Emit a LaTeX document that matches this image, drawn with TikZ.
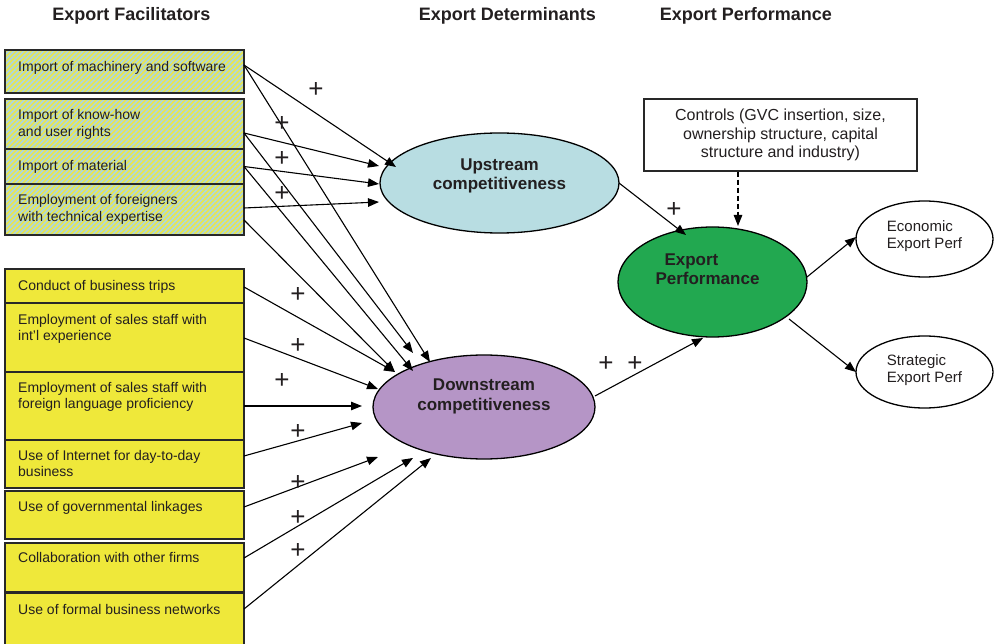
\documentclass[tikz,border=0pt]{standalone}
\usepackage{fontspec}
\setmainfont{Liberation Sans}
\usetikzlibrary{arrows.meta,shapes.geometric,patterns.meta}
\definecolor{byel}{RGB}{239,232,58}
\definecolor{hyel}{RGB}{232,230,80}
\definecolor{hblue}{RGB}{172,214,222}
\definecolor{upc}{RGB}{184,221,226}
\definecolor{dnc}{RGB}{181,149,198}
\definecolor{grc}{RGB}{34,168,80}
\definecolor{bline}{RGB}{40,40,40}
\definecolor{tcol}{RGB}{35,31,32}
\begin{document}
\begin{tikzpicture}[x=1pt,y=-1pt,
  ybox/.style={draw=bline,line width=1.2pt,fill=byel,minimum width=239pt,inner sep=0pt,outer sep=0pt},
  hbox/.style={draw=bline,line width=1.2pt,minimum width=239pt,inner sep=0pt,outer sep=0pt,
    preaction={fill=hyel},pattern={Lines[angle=45,distance=3.5pt,line width=1.6pt]},pattern color=hblue},
  btxt/.style={anchor=north west,inner sep=0pt,align=left,font=\fontsize{14}{16.5}\selectfont,text=tcol},
  hdr/.style={anchor=base,inner sep=0pt,font=\fontsize{18}{20}\selectfont\bfseries,text=tcol},
  ell/.style={ellipse,draw=black,line width=1.3pt,inner sep=0pt,outer sep=0pt},
  etxt/.style={inner sep=0pt,align=center,font=\fontsize{17}{19.5}\selectfont\bfseries,text=tcol},
  stxt/.style={inner sep=0pt,align=left,font=\fontsize{15}{17.5}\selectfont,text=tcol},
  plus/.style={inner sep=0pt,font=\fontsize{26}{26}\selectfont,text=tcol},
  arr/.style={-{Triangle[length=11pt,width=8.5pt]},line width=1.1pt,black}]
\useasboundingbox (0,0) rectangle (997,644);
\fill[white] (0,0) rectangle (997,644);

% headers
\node[hdr] (h1) at (131.5,20.5) {Export Facilitators};
\node[hdr] (h2) at (507.5,20.5) {Export Determinants};
\node[hdr] (h3) at (746,20.5) {Export Performance};

% hatched boxes
\node[hbox,minimum height=43pt] (b1) at (124.5,71.5) {};
\node[hbox,minimum height=50pt] (b2) at (124.5,124) {};
\node[hbox,minimum height=35pt] (b3) at (124.5,166.5) {};
\node[hbox,minimum height=51pt] (b4) at (124.5,209.5) {};
% yellow boxes
\node[ybox,minimum height=34pt] (bA) at (124.5,286) {};
\node[ybox,minimum height=69pt] (bB) at (124.5,337.5) {};
\node[ybox,minimum height=68pt] (bC) at (124.5,406) {};
\node[ybox,minimum height=48pt] (bD) at (124.5,464) {};
\node[ybox,minimum height=48pt] (bE) at (124.5,515) {};
\node[ybox,minimum height=49pt] (bF) at (124.5,567.5) {};
\node[ybox,minimum height=53pt] (bG) at (124.5,619.5) {};

% box texts
\node[btxt] (t1) at (18,61) {Import of machinery and software};
\node[btxt] (t2) at (18,109.5) {Import of know-how\\and user rights};
\node[btxt] (t3) at (18,160) {Import of material};
\node[btxt] (t4) at (18,194.5) {Employment of foreigners\\with technical expertise};
\node[btxt] (tA) at (18,280) {Conduct of business trips};
\node[btxt] (tB) at (18,314) {Employment of sales staff with\\int’l experience};
\node[btxt] (tC) at (18,382) {Employment of sales staff with\\foreign language proficiency};
\node[btxt] (tD) at (18,450) {Use of Internet for day-to-day\\business};
\node[btxt] (tE) at (18,501) {Use of governmental linkages};
\node[btxt] (tF) at (18,552) {Collaboration with other firms};
\node[btxt] (tG) at (18,604) {Use of formal business networks};

% ellipses
\node[ell,fill=upc,minimum width=239pt,minimum height=100pt] (up) at (499.5,183) {};
\node[etxt] (upT) at (499.5,176) {Upstream\\competitiveness};
\node[ell,fill=dnc,minimum width=222pt,minimum height=104pt] (down) at (484,407) {};
\node[etxt] (downT) at (484,396.5) {Downstream\\competitiveness};
\node[ell,fill=grc,minimum width=189pt,minimum height=110pt] (perf) at (712.5,282) {};
\node[etxt,align=left] (perfT) at (707.5,269) {\hspace*{9pt}Export\\Performance};
\node[ell,fill=white,minimum width=137pt,minimum height=76pt] (econ) at (924.5,239) {};
\node[stxt] (econT) at (924.5,236) {Economic\\Export Perf};
\node[ell,fill=white,minimum width=137pt,minimum height=72pt] (strat) at (924.5,372) {};
\node[stxt] (stratT) at (924.5,370) {Strategic\\Export Perf};

% controls box
\node[draw=bline,line width=1.2pt,fill=white,minimum width=273pt,minimum height=72pt,inner sep=0pt,
  align=center,font=\fontsize{16}{18.5}\selectfont,text=tcol] (ctrl) at (780.5,135)
  {Controls (GVC insertion, size,\\ownership structure, capital\\structure and industry)};

% arrows to upstream
\draw[arr] ([yshift=6.5pt]b1.east) -- ([xshift=-103.5pt,yshift=16pt]up.center);
\draw[arr] ([yshift=-9pt]b2.east) -- ([xshift=-120.5pt,yshift=17pt]up.center);
\draw[arr] (b3.east) -- ([xshift=-120.5pt,yshift=-1pt]up.center);
\draw[arr] ([yshift=1.5pt]b4.east) -- ([xshift=-120.5pt,yshift=-19pt]up.center);
% arrows to downstream
\draw[arr] ([yshift=6.5pt]b1.east) -- ([xshift=-54pt,yshift=45pt]down.center);
\draw[arr] ([yshift=-9pt]b2.east) -- ([xshift=-71pt,yshift=54pt]down.center);
\draw[arr] (b3.east) -- ([xshift=-71pt,yshift=36pt]down.center);
\draw[arr] ([yshift=-10.5pt]b4.east) -- ([xshift=-89pt,yshift=35pt]down.center);
\draw[arr] ([yshift=-1pt]bA.east) -- ([xshift=-89pt,yshift=35pt]down.center);
\draw[arr] ([yshift=-0.5pt]bB.east) -- ([xshift=-106pt,yshift=18pt]down.center);
\draw[arr] (bC.east) -- ([xshift=-122pt,yshift=1pt]down.center);
\draw[arr] ([yshift=8pt]bD.east) -- ([xshift=-122pt,yshift=-16pt]down.center);
\draw[arr] ([yshift=8pt]bE.east) -- ([xshift=-106pt,yshift=-50pt]down.center);
\draw[arr] ([yshift=9.5pt]bF.east) -- ([xshift=-71pt,yshift=-51pt]down.center);
\draw[arr] ([yshift=10.5pt]bG.east) -- ([xshift=-53pt,yshift=-51pt]down.center);
% to export performance
\draw[arr] (up.east) -- ([xshift=-26.5pt,yshift=47pt]perf.center);
\draw[arr] ([yshift=11pt]down.east) -- ([xshift=-9.5pt,yshift=-56pt]perf.center);
\draw[arr] ([yshift=5pt]perf.east) -- ([yshift=2pt]econ.west);
\draw[arr] ([xshift=76.5pt,yshift=-37pt]perf.center) -- (strat.west);
\draw[arr,dash pattern=on 5pt off 3pt] ([xshift=-42.5pt]ctrl.south) -- ([xshift=25.5pt,yshift=1pt]perf.north);

% plus signs
\node[plus] (p1) at (316,90.5) {+};
\node[plus] (p2) at (282,124.5) {+};
\node[plus] (p3) at (282,158.5) {+};
\node[plus] (p4) at (282,193.5) {+};
\node[plus] (p5) at (298,294.5) {+};
\node[plus] (p6) at (298,345.5) {+};
\node[plus] (p7) at (282,380.5) {+};
\node[plus] (p8) at (298,431.5) {+};
\node[plus] (p9) at (298,482.5) {+};
\node[plus] (p10) at (298,517.5) {+};
\node[plus] (p11) at (298,550.5) {+};
\node[plus] (p12) at (606,363.5) {+};
\node[plus] (p13) at (635,363.5) {+};
\node[plus] (p14) at (674,209.5) {+};
\end{tikzpicture}
\end{document}
